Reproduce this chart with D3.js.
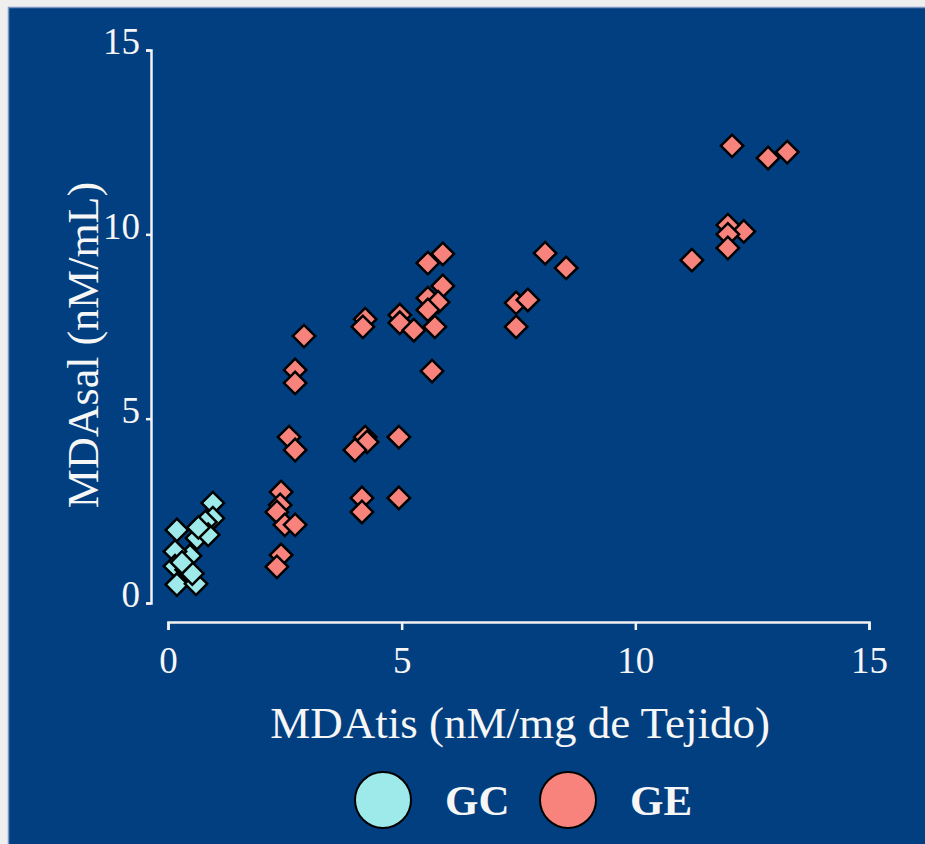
<!DOCTYPE html>
<html>
<head>
<meta charset="utf-8">
<script src="https://cdn.jsdelivr.net/npm/d3@7"></script>
<style>
  body { margin: 0; background: #efefef; }
  text { font-family: "Liberation Serif", "DejaVu Serif", serif; fill: #f6f6f6; }
</style>
</head>
<body>
<script>
// values: [MDAtis, MDAsal]
const gcPoints = [
  [0.96, 2.71], [0.96, 2.30], [0.80, 2.20], [0.19, 1.98], [0.62, 1.76],
  [0.86, 1.85], [0.47, 1.28], [0.15, 1.40], [0.15, 1.00], [0.40, 0.90],
  [0.19, 0.50], [0.60, 0.52], [0.52, 0.80], [0.30, 1.10], [0.65, 2.05]
];
const gePoints = [
  [13.25, 12.23], [12.84, 12.07], [12.07, 12.40], [12.32, 10.08], [11.98, 10.25],
  [11.98, 10.00], [11.98, 9.63], [11.21, 9.30],
  [8.07, 9.49], [8.52, 9.09], [7.45, 8.14], [7.70, 8.22], [7.45, 7.49],
  [5.88, 9.47], [5.56, 9.22], [5.88, 8.60], [5.56, 8.27], [5.78, 8.16],
  [5.56, 7.95], [5.71, 7.49], [4.96, 7.81], [4.96, 7.60], [5.26, 7.40],
  [5.65, 6.29], [4.22, 7.70], [4.17, 7.49],
  [2.91, 7.24], [2.72, 6.32], [2.72, 5.97], [2.59, 4.50], [2.72, 4.15],
  [4.22, 4.50], [4.26, 4.37], [4.00, 4.15], [4.94, 4.50],
  [2.42, 3.01], [2.40, 2.66], [2.33, 2.47], [2.50, 2.12], [2.72, 2.12],
  [4.15, 2.85], [4.15, 2.47], [4.94, 2.85],
  [2.42, 1.30], [2.33, 0.98]
];
const groups = ["GC", "GE"];
const groupColors = ["#9eeaea", "#f8837c"];
const xTicks = [0, 5, 10, 15];
const yTicks = [0, 5, 10, 15];
const xTitle = "MDAtis (nM/mg de Tejido)";
const yTitle = "MDAsal (nM/mL)";

const W = 925, H = 844;

let svg = d3.select("body")
  .append("svg")
  .attr("width", W)
  .attr("height", H);

// blue panel
svg.append("rect")
  .attr("x", 8).attr("y", 7)
  .attr("width", W - 8).attr("height", H - 7)
  .attr("fill", "#013f80");
svg.append("path")
  .attr("d", `M8.5,${H} V7.5 H${W}`)
  .attr("fill", "none")
  .attr("stroke", "#7d95c0")
  .attr("stroke-width", 1.5);

const x = d3.scaleLinear().domain([0, 15]).range([168, 869]);
const y = d3.scaleLinear().domain([0, 15]).range([603, 50]);

let xAxis = svg.append("g")
  .attr("transform", "translate(0,622)")
  .call(d3.axisBottom(x).tickValues(xTicks).tickSize(8).tickSizeOuter(8).tickPadding(12));

let yAxis = svg.append("g")
  .attr("transform", "translate(151,0)")
  .call(d3.axisLeft(y).tickValues(yTicks).tickSize(5).tickSizeOuter(5).tickPadding(6));

[xAxis, yAxis].forEach(a => {
  a.selectAll("path, line").attr("stroke", "#f2f2f2").attr("stroke-width", 2.5);
  a.selectAll("text")
    .style("font-size", "37px")
    .style("font-family", "Liberation Serif, serif")
    .attr("fill", "#f6f6f6");
});
yAxis.selectAll("text").attr("dy", "0.1em");
xAxis.selectAll("text").attr("dy", "0.85em");

// axis titles
svg.append("text")
  .attr("x", 520).attr("y", 738)
  .attr("text-anchor", "middle")
  .style("font-size", "45px")
  .text(xTitle);

svg.append("text")
  .attr("transform", "translate(98,345) rotate(-90)")
  .attr("text-anchor", "middle")
  .style("font-size", "44px")
  .text(yTitle);

// diamonds
const diamond = d3.symbol().type(d3.symbolSquare).size(250);
const series = [gcPoints, gePoints];

series.forEach((pts, i) => {
  svg.append("g")
    .selectAll("path")
    .data(pts)
    .enter()
    .append("path")
    .attr("d", diamond)
    .attr("transform", d => `translate(${x(d[0])},${y(d[1])}) rotate(45)`)
    .attr("fill", groupColors[i])
    .attr("stroke", "#000")
    .attr("stroke-width", 2.5);
});

// legend
const legendX = [383, 568];
groups.forEach((g, i) => {
  svg.append("circle")
    .attr("cx", legendX[i]).attr("cy", 800).attr("r", 28)
    .attr("fill", groupColors[i])
    .attr("stroke", "#000")
    .attr("stroke-width", 2);
  svg.append("text")
    .attr("x", legendX[i] + 62).attr("y", 815)
    .style("font-size", "43px")
    .style("font-weight", "bold")
    .text(g);
});
</script>
</body>
</html>
